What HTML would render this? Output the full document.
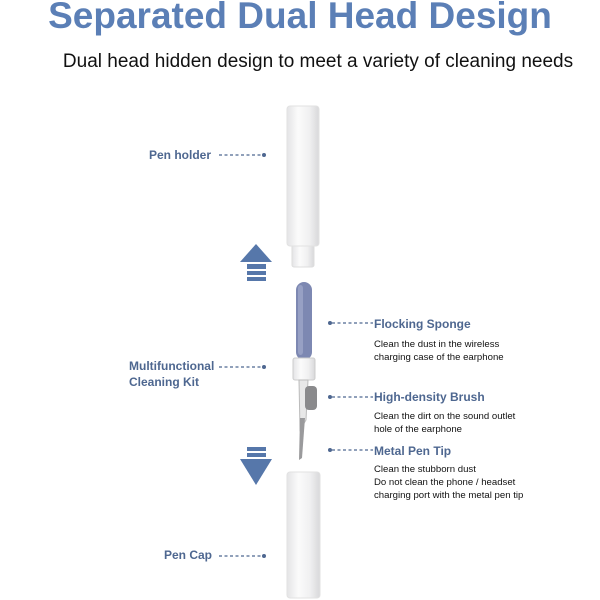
<!DOCTYPE html>
<html><head><style>
body{margin:0;width:600px;height:600px;background:#fff;position:relative;overflow:hidden;font-family:"Liberation Sans",Arial,sans-serif}
.a{position:absolute;white-space:nowrap}
.h{color:#4e6790;font-weight:bold;font-size:12px}
.d{color:#111;font-size:9.6px;line-height:13px}
</style></head><body>
<div class="a" style="left:0;width:600px;text-align:center;top:-5px;font-size:37px;font-weight:bold;color:#5b7fb6">Separated Dual Head Design</div>
<div class="a" style="left:0;width:636px;text-align:center;top:51px;font-size:19px;color:#111">Dual head hidden design to meet a variety of cleaning needs</div>

<div class="a h" style="left:149px;top:148px">Pen holder</div>
<div class="a h" style="left:129px;top:358px;line-height:16px">Multifunctional<br>Cleaning Kit</div>
<div class="a h" style="left:164px;top:548px">Pen Cap</div>
<div class="a h" style="left:374px;top:317px">Flocking Sponge</div>
<div class="a d" style="left:374px;top:338px">Clean the dust in the wireless<br>charging case of the earphone</div>
<div class="a h" style="left:374px;top:390px">High-density Brush</div>
<div class="a d" style="left:374px;top:410px">Clean the dirt on the sound outlet<br>hole of the earphone</div>
<div class="a h" style="left:374px;top:444px">Metal Pen Tip</div>
<div class="a d" style="left:374px;top:463px">Clean the stubborn dust<br>Do not clean the phone / headset<br>charging port with the metal pen tip</div>

<svg class="a" style="left:0;top:0" width="600" height="600">
<defs><linearGradient id="w" x1="0" x2="1"><stop offset="0" stop-color="#e4e4e6"/><stop offset=".35" stop-color="#fbfbfb"/><stop offset=".7" stop-color="#f0f0f1"/><stop offset="1" stop-color="#d8d8da"/></linearGradient></defs>
<g stroke="#4e6790" stroke-width="1.2" stroke-dasharray="3,2.5" fill="none">
<line x1="219" y1="155" x2="262" y2="155"/><line x1="219" y1="367" x2="262" y2="367"/><line x1="219" y1="556" x2="262" y2="556"/>
<line x1="332" y1="323" x2="373" y2="323"/><line x1="332" y1="397" x2="373" y2="397"/><line x1="332" y1="450" x2="373" y2="450"/>
</g>
<g fill="#4e6790"><circle cx="264" cy="155" r="2"/><circle cx="264" cy="367" r="2"/><circle cx="264" cy="556" r="2"/>
<circle cx="330" cy="323" r="2"/><circle cx="330" cy="397" r="2"/><circle cx="330" cy="450" r="2"/></g>
<g fill="#5677aa">
<polygon points="256,244 272,262 240,262"/><rect x="247" y="264" width="19" height="5"/><rect x="247" y="271" width="19" height="4"/><rect x="247" y="277" width="19" height="4"/>
<rect x="247" y="447" width="19" height="4"/><rect x="247" y="453" width="19" height="4"/><polygon points="240,459 272,459 256,485"/>
</g>
<rect x="292" y="240" width="22" height="27" rx="2" fill="url(#w)" stroke="#ddd"/>
<rect x="287" y="106" width="32" height="140" rx="3" fill="url(#w)" stroke="#e2e2e2"/>
<rect x="287" y="472" width="33" height="126" rx="3" fill="url(#w)" stroke="#e2e2e2"/>
<rect x="296" y="282" width="16" height="78" rx="8" fill="#7d88b2"/>
<rect x="298" y="285" width="5" height="70" rx="3" fill="#97a0c4"/>
<rect x="293" y="358" width="22" height="22" rx="2" fill="url(#w)" stroke="#ccc"/>
<polygon points="299,380 308,380 306,420 300,430" fill="#e8e8e8" stroke="#bbb"/>
<rect x="305" y="386" width="12" height="24" rx="4" fill="#8a8a8c"/>
<polygon points="300,418 305,418 302,458 299,460" fill="#9a9a9c"/>
</svg>
</body></html>
